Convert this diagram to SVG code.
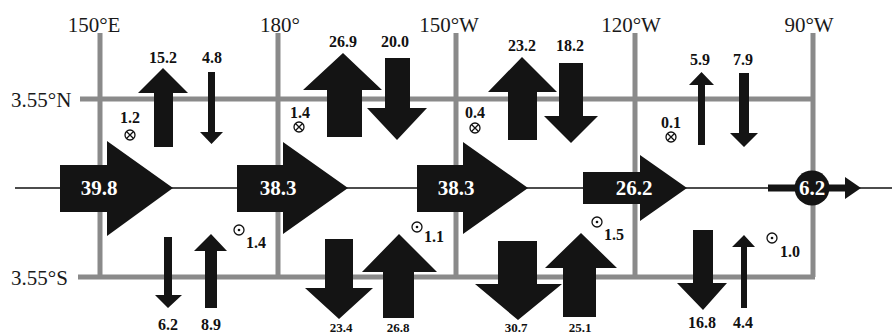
<svg xmlns="http://www.w3.org/2000/svg" width="892" height="334" viewBox="0 0 892 334">
<style>
.grid{stroke:#8a8a8a;stroke-width:5;fill:none}
.ax{font-family:"Liberation Serif","Times New Roman","DejaVu Serif",serif;font-size:21px;fill:#1a1a1a}
.lab{font-family:"Liberation Serif","Times New Roman","DejaVu Serif",serif;font-size:16px;font-weight:bold;fill:#111;text-anchor:middle}
.labs{font-family:"Liberation Serif","Times New Roman","DejaVu Serif",serif;font-size:16px;font-weight:bold;fill:#111}
.zl{font-family:"Liberation Serif","Times New Roman","DejaVu Serif",serif;font-size:21px;font-weight:bold;fill:#fff;text-anchor:middle}
.cut{font-size:13px}
.arr{fill:#141414}
.sym{fill:none;stroke:#111;stroke-width:1.3}
</style>
<rect width="892" height="334" fill="#fff"/>
<g id="grid">
<line class="grid" x1="100" y1="33" x2="100" y2="277"/>
<line class="grid" x1="278" y1="33" x2="278" y2="277"/>
<line class="grid" x1="456" y1="33" x2="456" y2="277"/>
<line class="grid" x1="635" y1="33" x2="635" y2="277"/>
<line class="grid" x1="813" y1="33" x2="813" y2="277"/>
<line class="grid" x1="80" y1="99" x2="813" y2="99"/>
<line class="grid" x1="78" y1="277" x2="815" y2="277"/>
</g>
<g id="axis-labels">
<text class="ax" x="94" y="32" text-anchor="middle">150°E</text>
<text class="ax" x="280" y="32" text-anchor="middle">180°</text>
<text class="ax" x="449" y="32" text-anchor="middle">150°W</text>
<text class="ax" x="631" y="32" text-anchor="middle">120°W</text>
<text class="ax" x="809" y="32" text-anchor="middle">90°W</text>
<text class="ax" x="11" y="107">3.55°N</text>
<text class="ax" x="11" y="285">3.55°S</text>
</g>
<g id="connectors">
<line x1="15" y1="188" x2="892" y2="188" stroke="#111" stroke-width="1.6"/>
</g>
<g id="zonal-1">
<polygon class="arr" points="60,165 107,165 107,141 173,188 107,236 107,212 60,212"/>
<text class="zl" x="99" y="195">39.8</text>
</g>
<g id="zonal-2">
<polygon class="arr" points="237,165 283,165 283,142 348,188 283,234 283,212 237,212"/>
<text class="zl" x="278" y="195">38.3</text>
</g>
<g id="zonal-3">
<polygon class="arr" points="417,165 463,165 463,142 528,188 463,234 463,212 417,212"/>
<text class="zl" x="456" y="195">38.3</text>
</g>
<g id="zonal-4">
<polygon class="arr" points="583,172 640,172 640,155 687,188 640,221 640,204 583,204"/>
<text class="zl" x="634" y="195">26.2</text>
</g>
<g id="zonal-5">
<rect class="arr" x="768" y="184.5" width="44" height="7"/>
<polygon class="arr" points="812,184.5 845,184.5 845,177 861,188 845,199 845,191.5 812,191.5"/>
<circle class="arr" cx="812" cy="188" r="17.5"/>
<text class="zl" x="812" y="195">6.2</text>
</g>
<g id="north-1">
<polygon class="arr" points="154,147 173,147 173,93 188,93 163,68 138,93 154,93"/>
<text class="lab" x="163" y="63">15.2</text>
<polygon class="arr" points="208,72 215,72 215,132 223,132 211.5,144 200,132 208,132"/>
<text class="lab" x="212" y="63">4.8</text>
<circle class="sym" cx="130" cy="135" r="5"/>
<path class="sym" d="M126.5,131.5 L133.5,138.5 M133.5,131.5 L126.5,138.5"/>
<text class="lab" x="130" y="123">1.2</text>
</g>
<g id="north-2">
<polygon class="arr" points="327,137 362,137 362,90 382,90 343,53 303,90 327,90"/>
<text class="lab" x="343" y="47">26.9</text>
<polygon class="arr" points="385,58 410,58 410,108 427,108 397,140 367,108 385,108"/>
<text class="lab" x="395" y="47">20.0</text>
<circle class="sym" cx="299" cy="127" r="5"/>
<path class="sym" d="M295.5,123.5 L302.5,130.5 M302.5,123.5 L295.5,130.5"/>
<text class="lab" x="300" y="118">1.4</text>
</g>
<g id="north-3">
<polygon class="arr" points="508,140 537,140 537,92 557,92 522,57 488,92 508,92"/>
<text class="lab" x="522" y="51">23.2</text>
<polygon class="arr" points="559,63 583,63 583,116 598,116 571,143 544,116 559,116"/>
<text class="lab" x="570" y="51">18.2</text>
<circle class="sym" cx="475" cy="128" r="5"/>
<path class="sym" d="M471.5,124.5 L478.5,131.5 M478.5,124.5 L471.5,131.5"/>
<text class="lab" x="475" y="118">0.4</text>
</g>
<g id="north-4">
<polygon class="arr" points="698,145 705,145 705,85 714,85 701.5,72 689,85 698,85"/>
<text class="lab" x="700" y="65">5.9</text>
<polygon class="arr" points="739,73 749,73 749,133 758,133 744,147 730,133 739,133"/>
<text class="lab" x="743" y="65">7.9</text>
<circle class="sym" cx="671" cy="137" r="5"/>
<path class="sym" d="M667.5,133.5 L674.5,140.5 M674.5,133.5 L667.5,140.5"/>
<text class="lab" x="671" y="128">0.1</text>
</g>
<g id="south-1">
<polygon class="arr" points="164,237 172,237 172,295 182,295 168,308 155,295 164,295"/>
<text class="lab" x="168" y="330">6.2</text>
<polygon class="arr" points="205,308 217,308 217,251 227,251 211,234 194,251 205,251"/>
<text class="lab" x="211" y="330">8.9</text>
<circle class="sym" cx="239" cy="230" r="5"/>
<circle cx="239" cy="230" r="1.3" fill="#111"/>
<text class="labs" x="246" y="248">1.4</text>
</g>
<g id="south-2">
<polygon class="arr" points="325,239 353,239 353,288 373,288 339,319 305,288 325,288"/>
<text class="lab cut" x="341" y="332">23.4</text>
<polygon class="arr" points="383,318 414,318 414,272 437,272 399,234 362,272 383,272"/>
<text class="lab cut" x="398" y="332">26.8</text>
<circle class="sym" cx="417" cy="227" r="5"/>
<circle cx="417" cy="227" r="1.3" fill="#111"/>
<text class="labs" x="424" y="242">1.1</text>
</g>
<g id="south-3">
<polygon class="arr" points="498,241 537,241 537,284 562,284 518,320 475,284 498,284"/>
<text class="lab cut" x="516" y="332">30.7</text>
<polygon class="arr" points="563,317 596,317 596,268 617,268 581,233 545,268 563,268"/>
<text class="lab cut" x="580" y="332">25.1</text>
<circle class="sym" cx="597" cy="222" r="5"/>
<circle cx="597" cy="222" r="1.3" fill="#111"/>
<text class="labs" x="604" y="240">1.5</text>
</g>
<g id="south-4">
<polygon class="arr" points="693,230 713,230 713,283 727,283 703,310 677,283 693,283"/>
<text class="lab" x="702" y="328">16.8</text>
<polygon class="arr" points="741,308 747,308 747,247 755,247 744,235 732,247 741,247"/>
<text class="lab" x="743" y="328">4.4</text>
<circle class="sym" cx="772" cy="238" r="5"/>
<circle cx="772" cy="238" r="1.3" fill="#111"/>
<text class="labs" x="780" y="257">1.0</text>
</g>
</svg>
